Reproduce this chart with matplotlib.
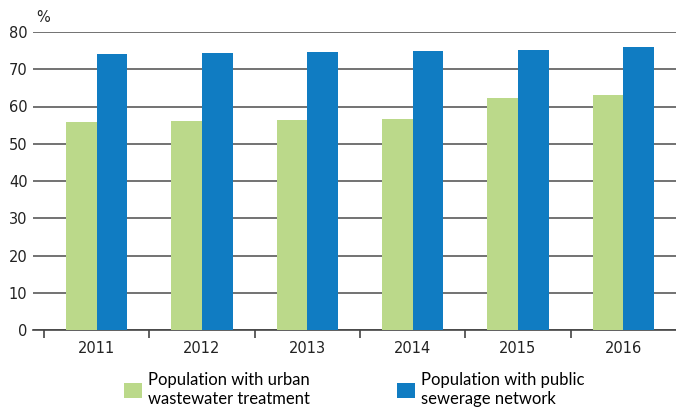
import matplotlib
matplotlib.use('Agg')
from matplotlib import pyplot as plt
from matplotlib.patches import Patch
import numpy as np

plt.rcParams['font.family'] = ['Liberation Sans Narrow', 'DejaVu Sans']

years = ['2011', '2012', '2013', '2014', '2015', '2016']
urban_wastewater = [55.8, 56.1, 56.4, 56.6, 62.2, 63.0]
public_sewerage = [74.0, 74.3, 74.5, 74.8, 75.3, 75.9]
labels = ['Population with urban\nwastewater treatment',
          'Population with public\nsewerage network']
green = '#BBD98A'
blue = '#107CC2'

fig = plt.figure(figsize=(6.76, 4.08), dpi=100)
ax = fig.add_axes([33 / 676, 1 - 330 / 408, 1 - 33 / 676, 298 / 408])

x = np.arange(len(years))
w = 0.29
ax.bar(x - w / 2, urban_wastewater, w, color=green, zorder=3)
ax.bar(x + w / 2, public_sewerage, w, color=blue, zorder=3)

ax.set_ylim(0, 80)
ax.set_xlim(-0.604, 5.5)
ax.set_yticks(np.arange(0, 81, 10))
ax.yaxis.grid(True, color='#5a5a5a', linewidth=1.2, zorder=0)
ax.tick_params(axis='y', length=0, pad=4, labelsize=10.5, labelcolor='#222222')

ax.set_xticks(np.arange(-0.5, 5, 1))
ax.set_xticks(x, minor=True)
ax.set_xticklabels([])
ax.set_xticklabels(years, minor=True)
ax.tick_params(axis='x', which='major', direction='out', length=6, width=1.2, color='#444444')
ax.tick_params(axis='x', which='minor', length=0, pad=8, labelsize=10.5, labelcolor='#222222')

for s in ['top', 'right', 'left']:
    ax.spines[s].set_visible(False)
ax.spines['bottom'].set_color('#444444')
ax.spines['bottom'].set_linewidth(1.2)

fig.text(36 / 676, 1 - 17 / 408, '%', fontsize=10.5, color='#222222', va='center', ha='left')

handles = [Patch(facecolor=green), Patch(facecolor=blue)]
fig.legend(handles, labels, ncol=2, frameon=False, loc='upper left',
           bbox_to_anchor=(116 / 676, 1 - 364 / 408),
           prop={'family': 'Lato', 'size': 12},
           handlelength=1.05, handleheight=1.05, handletextpad=0.4,
           columnspacing=5.2, labelspacing=0.1, borderpad=0)

fig.savefig('out.png', dpi=100)
